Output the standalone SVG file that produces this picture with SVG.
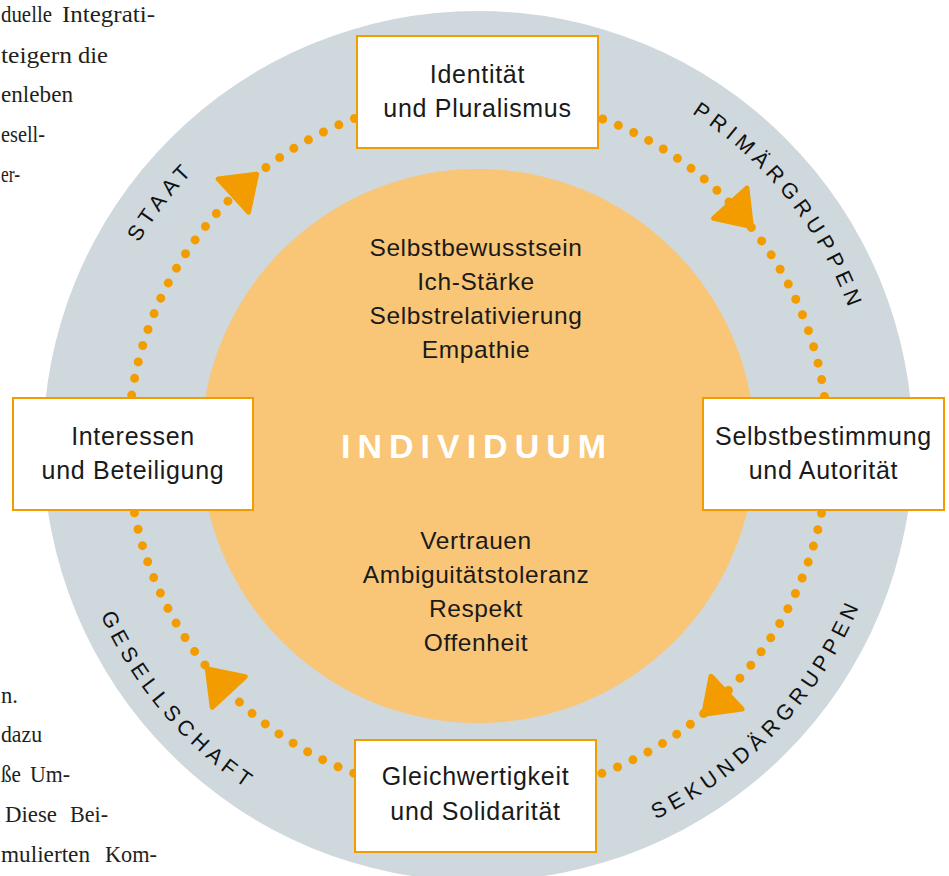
<svg xmlns="http://www.w3.org/2000/svg" width="949" height="876" viewBox="0 0 949 876">
<style>
.para{font-family:"Liberation Serif","Times New Roman",serif;font-size:24px;fill:#231f20}
.box{fill:#ffffff;stroke:#f39c00;stroke-width:2}
.bt{font-family:"Liberation Sans",Arial,sans-serif;font-size:25px;letter-spacing:0.7px;fill:#1a1a1a;text-anchor:middle}
.it{font-family:"Liberation Sans",Arial,sans-serif;font-size:24.5px;letter-spacing:0.6px;fill:#1a1a1a;text-anchor:middle}
.ring{font-family:"Liberation Sans",Arial,sans-serif;font-size:21.5px;letter-spacing:5.3px;fill:#111111}
.tri{fill:#f39c00;stroke:#f39c00;stroke-width:5;stroke-linejoin:round}
</style>
<defs>
<path id="arcTop" d="M 82.5 446 A 395.5 395.5 0 0 1 873.5 446"/>
<path id="arcBot" d="M 64.5 446 A 413.5 413.5 0 0 0 891.5 446"/>
<polygon id="arrow" class="tri" points="21,0 -10.5,-22.5 -10.5,22.5"/>
</defs>

<g id="paragraph">
<text class="para" x="1" y="22" textLength="51" lengthAdjust="spacingAndGlyphs">duelle</text><text class="para" x="62" y="22" textLength="93" lengthAdjust="spacingAndGlyphs">Integrati-</text>
<text class="para" x="1" y="63" textLength="71" lengthAdjust="spacingAndGlyphs">teigern</text><text class="para" x="78" y="63" textLength="30" lengthAdjust="spacingAndGlyphs">die</text>
<text class="para" x="1" y="102" textLength="72" lengthAdjust="spacingAndGlyphs">enleben</text>
<text class="para" x="1" y="142" textLength="44" lengthAdjust="spacingAndGlyphs">esell-</text>
<text class="para" x="1" y="182" textLength="19" lengthAdjust="spacingAndGlyphs">er-</text>
<text class="para" x="1" y="703" textLength="17" lengthAdjust="spacingAndGlyphs">n.</text>
<text class="para" x="1" y="742" textLength="41" lengthAdjust="spacingAndGlyphs">dazu</text>
<text class="para" x="1" y="782" textLength="20" lengthAdjust="spacingAndGlyphs">ße</text><text class="para" x="30" y="782" textLength="40" lengthAdjust="spacingAndGlyphs">Um-</text>
<text class="para" x="5" y="822" textLength="52" lengthAdjust="spacingAndGlyphs">Diese</text><text class="para" x="70" y="822" textLength="38" lengthAdjust="spacingAndGlyphs">Bei-</text>
<text class="para" x="1" y="862" textLength="89" lengthAdjust="spacingAndGlyphs">mulierten</text><text class="para" x="105" y="862" textLength="52" lengthAdjust="spacingAndGlyphs">Kom-</text>
</g>

<g id="outer-ring">
<circle cx="478" cy="446" r="435" fill="#cfd8dc"/>
<text class="ring"><textPath href="#arcTop" startOffset="20.9%" text-anchor="middle">STAAT</textPath></text>
<text class="ring"><textPath href="#arcTop" startOffset="78.6%" text-anchor="middle">PRIMÄRGRUPPEN</textPath></text>
<text class="ring"><textPath href="#arcBot" startOffset="22.4%" text-anchor="middle">GESELLSCHAFT</textPath></text>
<text class="ring"><textPath href="#arcBot" startOffset="75.9%" text-anchor="middle">SEKUNDÄRGRUPPEN</textPath></text>
</g>

<g id="individuum">
<circle cx="478" cy="446" r="277" fill="#f9c576"/>
<text class="it" x="476" y="256">Selbstbewusstsein</text>
<text class="it" x="476" y="290">Ich-Stärke</text>
<text class="it" x="476" y="324">Selbstrelativierung</text>
<text class="it" x="476" y="358">Empathie</text>
<text x="341" y="458" style="font-family:'Liberation Sans',Arial,sans-serif;font-size:34px;font-weight:bold;letter-spacing:7px;fill:#ffffff">INDIVIDUUM</text>
<text class="it" x="476" y="549">Vertrauen</text>
<text class="it" x="476" y="583">Ambiguitätstoleranz</text>
<text class="it" x="476" y="617">Respekt</text>
<text class="it" x="476" y="651">Offenheit</text>
</g>

<g id="connectors">
<circle cx="478" cy="446" r="350" fill="none" stroke="#f39c00" stroke-width="9" stroke-linecap="round" stroke-dasharray="0 16.916"/>
<use href="#arrow" transform="translate(478 446) rotate(317.4) translate(0 -350)"/>
<use href="#arrow" transform="translate(478 446) rotate(47.8) translate(0 -350)"/>
<use href="#arrow" transform="translate(478 446) rotate(136.5) translate(0 -350)"/>
<use href="#arrow" transform="translate(478 446) rotate(227.1) translate(0 -350)"/>
</g>

<g id="node-identitaet">
<rect class="box" x="357" y="36" width="241" height="112"/>
<text class="bt" x="477.5" y="83">Identität</text>
<text class="bt" x="477.5" y="117">und Pluralismus</text>
</g>
<g id="node-interessen">
<rect class="box" x="13" y="398" width="240" height="112"/>
<text class="bt" x="133" y="445">Interessen</text>
<text class="bt" x="133" y="479">und Beteiligung</text>
</g>
<g id="node-selbstbestimmung">
<rect class="box" x="703" y="398" width="241" height="112"/>
<text class="bt" x="823.5" y="445">Selbstbestimmung</text>
<text class="bt" x="823.5" y="479">und Autorität</text>
</g>
<g id="node-gleichwertigkeit">
<rect class="box" x="355" y="740" width="241" height="112"/>
<text class="bt" x="475.5" y="785">Gleichwertigkeit</text>
<text class="bt" x="475.5" y="820">und Solidarität</text>
</g>
</svg>
